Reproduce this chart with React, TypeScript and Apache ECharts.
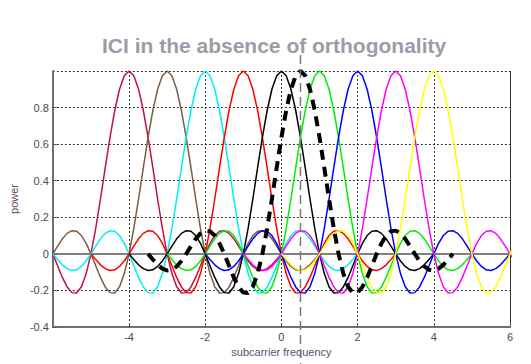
import React, { useEffect, useRef } from "react";
import * as echarts from "echarts";

const titleText = "ICI in the absence of orthogonality";
const xAxisName = "subcarrier frequency";
const yAxisName = "power";
const xRange = [-6, 6];
const yRange = [-0.4, 1];
const subcarrierCenters = [-4, -3, -2, -1, 0, 1, 2, 3, 4];
const subcarrierColors = [
  "#c0104c", "#7d5c44", "#00f0f0", "#ff0000", "#000000",
  "#00ee00", "#0000ff", "#ff00ff", "#ffff00",
];
const shiftedCenter = 0.5;
const pulseStep = 0.125;
// one side of the pulse shape (offset 0 .. 4 from its centre)
const halfPulse = [
  1, 0.974, 0.9, 0.784, 0.637, 0.471, 0.3, 0.139, 0,
  -0.108, -0.18, -0.214, -0.212, -0.181, -0.129, -0.065, 0,
  0.057, 0.1, 0.124, 0.127, 0.112, 0.082, 0.042, 0,
  -0.039, -0.069, -0.087, -0.091, -0.081, -0.06, -0.031, 0,
];

function pulseAt(center: number): [number, number][] {
  const n = halfPulse.length;
  const pts: [number, number][] = [];
  for (let i = -(n - 1); i <= n - 1; i++) {
    pts.push([center + i * pulseStep, halfPulse[Math.abs(i)]]);
  }
  return pts;
}

export default function App() {
  const ref = useRef<HTMLDivElement>(null);
  useEffect(() => {
    if (!ref.current) return;
    const chart = echarts.init(ref.current, null, { renderer: "svg" });
    const labelColor = "#4e4658";
    const font = "Liberation Sans, Arial, sans-serif";
    const series: any[] = subcarrierCenters.map((c, i) => ({
      type: "line",
      data: pulseAt(c),
      showSymbol: false,
      symbol: "none",
      smooth: false,
      lineStyle: { color: subcarrierColors[i], width: 1.5 },
      itemStyle: { color: subcarrierColors[i] },
      z: 2,
    }));
    series.push({
      type: "line",
      data: pulseAt(shiftedCenter),
      showSymbol: false,
      symbol: "none",
      lineStyle: { color: "#000", width: 4, type: [10, 7], cap: "butt" },
      z: 3,
    });
    chart.setOption({
      animation: false,
      backgroundColor: "#ffffff",
      title: {
        text: titleText,
        left: 97,
        top: 30,
        textStyle: { fontFamily: font, fontWeight: "bold", fontSize: 21, color: "#9c9ca8" },
      },
      grid: { left: 52, right: 21, top: 71, bottom: 37, containLabel: false },
      xAxis: [
        {
          type: "value",
          min: xRange[0],
          max: xRange[1],
          interval: 2,
          name: xAxisName,
          nameLocation: "middle",
          nameGap: 14,
          nameTextStyle: { color: "#5e4a70", fontSize: 11, fontFamily: font },
          axisLine: { show: true, onZero: false, lineStyle: { color: "#707070", width: 2 } },
          axisTick: { show: true, inside: true, length: 4, lineStyle: { color: "#555" } },
          axisLabel: { showMinLabel: false, color: labelColor, fontSize: 11, margin: 4, fontFamily: font },
          splitLine: { show: true, lineStyle: { color: "#333", width: 1, type: [2, 2] } },
        },
        {
          type: "value",
          position: "top",
          min: xRange[0],
          max: xRange[1],
          axisLine: { show: true, lineStyle: { color: "#808080", width: 2 } },
          axisTick: { show: false },
          axisLabel: { show: false },
          splitLine: { show: false },
        },
      ],
      yAxis: [
        {
          type: "value",
          min: yRange[0],
          max: yRange[1],
          interval: 0.2,
          name: yAxisName,
          nameLocation: "middle",
          nameGap: 24,
          nameTextStyle: { color: "#5e4a70", fontSize: 11, fontFamily: font },
          axisLine: { show: true, onZero: false, lineStyle: { color: "#707070", width: 2 } },
          axisTick: { show: true, inside: true, length: 4, lineStyle: { color: "#555" } },
          axisLabel: {
            showMaxLabel: false,
            color: labelColor,
            fontSize: 11,
            margin: 4,
            fontFamily: font,
            formatter: (v: number) => String(Number(v.toFixed(1))),
          },
          splitLine: { show: true, lineStyle: { color: "#333", width: 1, type: [2, 2] } },
        },
        {
          type: "value",
          position: "right",
          min: yRange[0],
          max: yRange[1],
          axisLine: { show: true, onZero: false, lineStyle: { color: "#333", width: 1, type: [2, 2] } },
          axisTick: { show: false },
          axisLabel: { show: false },
          splitLine: { show: false },
        },
      ],
      series,
    });
    const px = chart.convertToPixel({ xAxisIndex: 0 }, shiftedCenter) as number;
    chart.setOption({
      graphic: [
        {
          type: "line",
          z: 100,
          shape: { x1: px, y1: 55, x2: px, y2: 364 },
          style: { stroke: "#7a7a7a", lineWidth: 1.5, lineDash: [9, 5] },
        },
      ],
    });
    return () => chart.dispose();
  }, []);
  return (
    <div ref={ref} style={{ position: "fixed", left: 0, top: 0, width: 531, height: 364 }} />
  );
}
